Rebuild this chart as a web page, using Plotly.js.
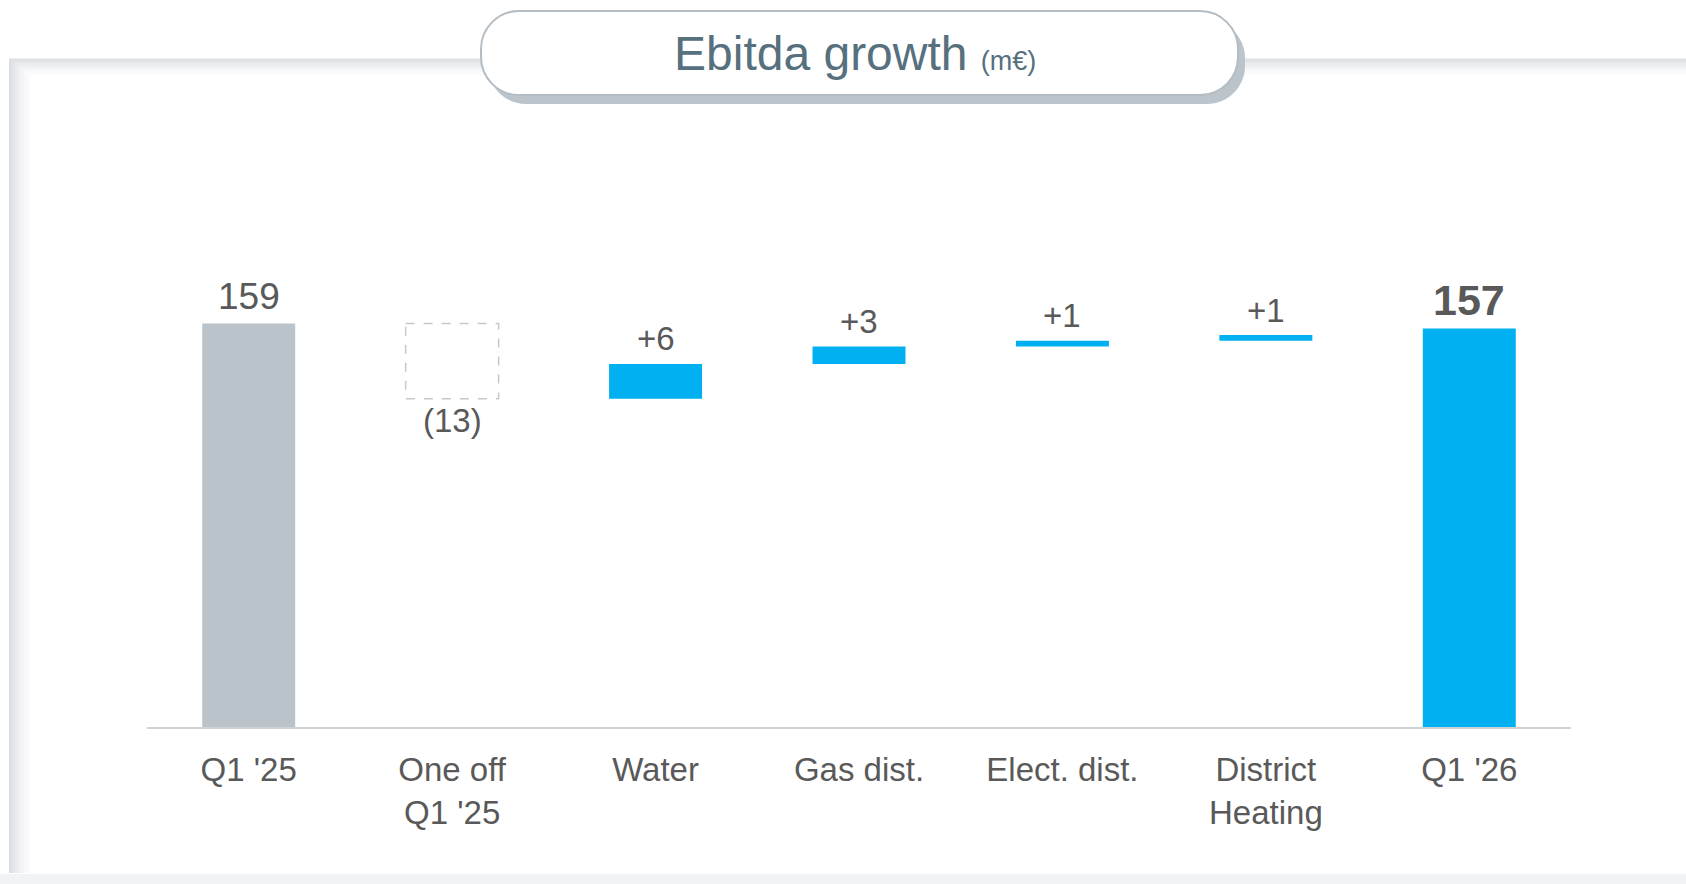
<!DOCTYPE html>
<html><head><meta charset="utf-8">
<script src="https://cdn.plot.ly/plotly-3.0.1.min.js"></script>
<style>html,body{margin:0;padding:0;background:#fff;overflow:hidden} #chart{width:1686px;height:884px;}</style>
</head><body><div id="chart"></div>
<script>
// ---- data ----
const categories = ["Q1 '25", "One off<br>Q1 '25", "Water", "Gas dist.", "Elect. dist.", "District<br>Heating", "Q1 '26"];
const totalCategories = ["Q1 '25", "Q1 '26"];
const totalValues = [159, 157];
const deltaCategories = ["One off<br>Q1 '25", "Water", "Gas dist.", "Elect. dist.", "District<br>Heating"];
const deltaValues = [-13, 6, 3, 1, 1];
const titleText = "Ebitda growth";
const unitText = "(m€)";

// ---- layout constants ----
const W = 1686, H = 884;
const plotL = 147, plotR = 1571, plotT = 227, plotB = 727;
const yMax = 197;            // main axis range
const deltaZoom = 2.28;      // visual magnification of the bridge steps (as in the slide)
const barW = 0.457;
const BLUE = '#00B0F0', GREY = '#BAC2CA', TXT = '#595959';
const FONT = 'Liberation Sans, Arial, sans-serif';

const px = x => (x - plotL) / (plotR - plotL);
const py = y => (plotB - y) / (plotB - plotT);

// running bases for the bridge
const bases = [];
let run = totalValues[0];
deltaValues.forEach(d => { bases.push(run); run += d; });

// y2 range: same pixel for the start value, magnified scale
const f = totalValues[0] / yMax;
const span2 = yMax / deltaZoom;
const y2Range = [totalValues[0] - f * span2, totalValues[0] + (1 - f) * span2];

const traces = [
  {
    type: 'bar', x: totalCategories, y: totalValues, width: barW,
    marker: {color: [GREY, BLUE], line: {width: 0}},
    yaxis: 'y', hoverinfo: 'skip'
  },
  {
    type: 'bar', x: deltaCategories, y: deltaValues, base: bases, width: barW,
    marker: {color: deltaValues.map(v => v < 0 ? 'rgba(0,0,0,0)' : BLUE), line: {width: 0}},
    yaxis: 'y2', hoverinfo: 'skip'
  }
];

const shapes = [];
// panel with soft inner shadow
shapes.push({type: 'rect', xref: 'paper', yref: 'paper', x0: px(9), x1: px(1700), y0: py(59), y1: py(880),
  fillcolor: '#FFFFFF', line: {width: 0}, layer: 'below'});
const shadeCols = ['#DCE0E4', '#E3E6E9', '#E9EBEE', '#EEF0F2', '#F3F4F6', '#F7F8F9', '#FBFBFC'];
shadeCols.forEach((c, i) => {
  const xL = 9 + i * 3 + 1.5, yT = 59 + i * 2.2 + 1.1;
  shapes.push({type: 'path', xref: 'paper', yref: 'paper', layer: 'below',
    path: `M ${px(xL)},${py(873)} L ${px(xL)},${py(yT)} L ${px(1690)},${py(yT)}`,
    line: {color: c, width: 3}});
});
shapes.push({type: 'rect', xref: 'paper', yref: 'paper', x0: px(0), x1: px(1700), y0: py(874), y1: py(890),
  fillcolor: '#F1F3F4', line: {width: 0}, layer: 'below'});

// dashed outline for negative step(s)
deltaValues.forEach((v, i) => {
  if (v < 0) {
    const idx = categories.indexOf(deltaCategories[i]);
    shapes.push({type: 'rect', xref: 'x', yref: 'y2', x0: idx - barW / 2, x1: idx + barW / 2,
      y0: bases[i], y1: bases[i] + v, line: {color: '#C3C9CF', width: 1.5, dash: 'dash'}, fillcolor: 'rgba(0,0,0,0)'});
  }
});

// title pill box
function pill(x0, y0, x1, y1, r) {
  const k = 0.5523 * r;
  const P = (x, y) => `${px(x)},${py(y)}`;
  return `M ${P(x0 + r, y0)} L ${P(x1 - r, y0)} C ${P(x1 - r + k, y0)} ${P(x1, y0 + r - k)} ${P(x1, y0 + r)} ` +
    `L ${P(x1, y1 - r)} C ${P(x1, y1 - r + k)} ${P(x1 - r + k, y1)} ${P(x1 - r, y1)} ` +
    `L ${P(x0 + r, y1)} C ${P(x0 + r - k, y1)} ${P(x0, y1 - r + k)} ${P(x0, y1 - r)} ` +
    `L ${P(x0, y0 + r)} C ${P(x0, y0 + r - k)} ${P(x0 + r - k, y0)} ${P(x0 + r, y0)} Z`;
}
shapes.push({type: 'path', xref: 'paper', yref: 'paper', path: pill(488, 20, 1245, 104, 38),
  fillcolor: '#BCC4CB', line: {width: 0}});
shapes.push({type: 'path', xref: 'paper', yref: 'paper', path: pill(481, 11, 1238, 95, 38),
  fillcolor: '#FFFFFF', line: {color: '#B5BDC4', width: 2}});

const fmtDelta = v => v < 0 ? `(${Math.abs(v)})` : `+${v}`;
const annotations = [];
// total labels
annotations.push({x: totalCategories[0], y: totalValues[0], xref: 'x', yref: 'y', text: String(totalValues[0]),
  showarrow: false, yanchor: 'middle', yshift: 27, font: {family: FONT, size: 37, color: TXT}});
annotations.push({x: totalCategories[1], y: totalValues[1], xref: 'x', yref: 'y', text: '<b>' + totalValues[1] + '</b>',
  showarrow: false, yanchor: 'middle', yshift: 29, font: {family: FONT, size: 43, color: TXT}});
// delta labels
deltaValues.forEach((v, i) => {
  const top = Math.max(bases[i], bases[i] + v);
  const bot = Math.min(bases[i], bases[i] + v);
  annotations.push({x: deltaCategories[i], y: v < 0 ? bot : top, xref: 'x', yref: 'y2', text: fmtDelta(v),
    showarrow: false, yanchor: 'middle', yshift: v < 0 ? -22 : 25, font: {family: FONT, size: 33, color: TXT}});
});
// title
annotations.push({xref: 'paper', yref: 'paper', x: px(855), y: py(54), xanchor: 'center', yanchor: 'middle',
  text: titleText + ' <span style="font-size:27px">' + unitText + '</span>', showarrow: false,
  font: {family: FONT, size: 48, color: '#56707E'}});

const layout = {
  width: W, height: H,
  margin: {l: plotL, r: W - plotR, t: plotT, b: H - plotB, pad: 0},
  paper_bgcolor: '#FFFFFF', plot_bgcolor: 'rgba(0,0,0,0)',
  showlegend: false, barmode: 'overlay',
  xaxis: {type: 'category', categoryorder: 'array', categoryarray: categories, range: [-0.5, categories.length - 0.5],
    showline: true, linecolor: '#CDD2D7', linewidth: 2, ticks: '', showgrid: false, zeroline: false,
    tickfont: {family: FONT, size: 33, color: TXT}, ticklabelstandoff: 12, fixedrange: true},
  yaxis: {range: [0, yMax], visible: false, showgrid: false, zeroline: false, fixedrange: true},
  yaxis2: {range: y2Range, overlaying: 'y', visible: false, showgrid: false, zeroline: false, fixedrange: true},
  shapes: shapes, annotations: annotations,
  font: {family: FONT, color: TXT}
};

Plotly.newPlot('chart', traces, layout, {displayModeBar: false, staticPlot: true});
</script>
</body></html>
